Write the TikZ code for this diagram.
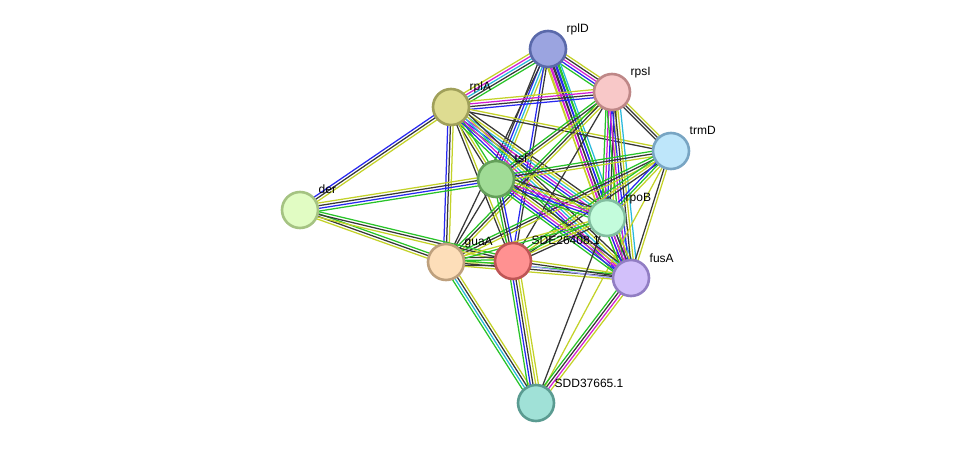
\documentclass[tikz,border=0pt]{standalone}
\usepackage{fontspec}
\setmainfont{Liberation Sans}
\usetikzlibrary{calc}
\pgfdeclarelayer{bg}
\pgfsetlayers{bg,main}
\definecolor{tmC}{RGB}{195,210,40}
\definecolor{coC}{RGB}{55,55,55}
\definecolor{exC}{RGB}{210,30,210}
\definecolor{dbC}{RGB}{40,185,220}
\definecolor{nbC}{RGB}{40,195,40}
\definecolor{ocC}{RGB}{40,40,240}
\definecolor{hoC}{RGB}{160,160,255}
\definecolor{fD}{RGB}{155,164,224}\definecolor{bD}{RGB}{90,105,170}
\definecolor{fI}{RGB}{248,200,200}\definecolor{bI}{RGB}{190,135,135}
\definecolor{fA}{RGB}{222,220,145}\definecolor{bA}{RGB}{160,160,90}
\definecolor{fT}{RGB}{190,230,250}\definecolor{bT}{RGB}{120,165,195}
\definecolor{fF}{RGB}{160,220,150}\definecolor{bF}{RGB}{100,160,90}
\definecolor{fR}{RGB}{225,252,195}\definecolor{bR}{RGB}{165,195,130}
\definecolor{fB}{RGB}{195,252,220}\definecolor{bB}{RGB}{130,190,160}
\definecolor{fS}{RGB}{255,145,145}\definecolor{bS}{RGB}{190,85,85}
\definecolor{fG}{RGB}{253,222,185}\definecolor{bG}{RGB}{190,160,125}
\definecolor{fU}{RGB}{210,192,250}\definecolor{bU}{RGB}{145,125,195}
\definecolor{fQ}{RGB}{160,225,215}\definecolor{bQ}{RGB}{90,155,145}
\tikzset{
  prot/.style={circle, minimum size=36pt, inner sep=0pt, line width=2.6pt},
  lbl/.style={anchor=base west, font=\fontsize{12}{12}\selectfont, inner sep=0.5pt, text=black},
  edgeline/.style={line width=1.25pt}
}
\newcommand\bund[3]{%
  \foreach \c [count=\k] in {#3} {\xdef\bundN{\k}}%
  \foreach \c [count=\k] in {#3} {%
    \pgfmathsetmacro\off{(\k-(\bundN+1)/2)*2.7}%
    \draw[edgeline, draw=\c] ($(#1)!\off pt!90:(#2)$) -- ($(#2)!\off pt!-90:(#1)$);
  }}
\begin{document}
\begin{tikzpicture}[x=1pt,y=-1pt]
\path[use as bounding box] (0,0) rectangle (975,449);
\node[prot, fill=fD, draw=bD] (D) at (548,49) {};
\node[prot, fill=fI, draw=bI] (I) at (612,92) {};
\node[prot, fill=fA, draw=bA] (A) at (451,107) {};
\node[prot, fill=fT, draw=bT] (T) at (671,151) {};
\node[prot, fill=fF, draw=bF] (F) at (496,179) {};
\node[prot, fill=fR, draw=bR] (R) at (300,210) {};
\node[prot, fill=fB, draw=bB] (B) at (607,218) {};
\node[prot, fill=fS, draw=bS] (S) at (513,261) {};
\node[prot, fill=fG, draw=bG] (G) at (446,262) {};
\node[prot, fill=fU, draw=bU] (U) at (631,278) {};
\node[prot, fill=fQ, draw=bQ] (Q) at (536,403) {};
\node[lbl] (lD) at (566,33) {rplD};
\node[lbl] (lI) at (630,76) {rpsI};
\node[lbl] (lA) at (469,91) {rplA};
\node[lbl] (lT) at (689,135) {trmD};
\node[lbl] (lF) at (514,163) {tsf};
\node[lbl] (lR) at (318,194) {der};
\node[lbl] (lB) at (625,202) {rpoB};
\node[lbl] (lS) at (531,245) {SDE26408.1};
\node[lbl] (lG) at (464,246) {guaA};
\node[lbl] (lU) at (649,262) {fusA};
\node[lbl] (lQ) at (554,387) {SDD37665.1};
\begin{pgfonlayer}{bg}
\bund{D}{I}{nbC,ocC,exC,coC,tmC}
\bund{D}{A}{tmC,exC,dbC,coC,nbC}
\bund{D}{F}{coC,ocC,dbC,tmC}
\bund{D}{S}{ocC,coC}
\bund{D}{G}{coC}
\bund{D}{B}{tmC,exC,coC,ocC,nbC}
\bund{D}{U}{tmC,exC,coC,ocC,nbC,dbC}
\bund{A}{I}{ocC,coC,exC,tmC}
\bund{A}{T}{coC,tmC}
\bund{A}{R}{ocC,coC,tmC}
\bund{A}{G}{ocC,coC,tmC}
\bund{A}{F}{coC,tmC,nbC}
\bund{A}{B}{nbC,ocC,exC,dbC,tmC,coC}
\bund{A}{U}{nbC,ocC,exC,dbC,tmC,coC}
\bund{A}{S}{coC,tmC}
\bund{I}{T}{coC,coC,tmC}
\bund{I}{B}{nbC,exC,ocC,coC,tmC}
\bund{I}{U}{nbC,exC,ocC,coC,tmC,dbC}
\bund{I}{F}{nbC,coC,tmC}
\bund{I}{G}{nbC,coC,tmC}
\bund{I}{S}{coC}
\bund{T}{F}{nbC,coC,tmC}
\bund{T}{G}{nbC,coC,tmC}
\bund{T}{S}{nbC,tmC,coC}
\bund{T}{B}{ocC,nbC,tmC}
\bund{T}{U}{coC,tmC}
\bund{T}{Q}{tmC}
\bund{F}{R}{tmC,coC,ocC,nbC}
\bund{F}{B}{nbC,ocC,exC,tmC,coC}
\bund{F}{U}{nbC,ocC,exC,tmC,coC}
\bund{F}{S}{nbC,coC,ocC}
\bund{F}{G}{coC}
\bund{R}{G}{tmC,coC,nbC}
\bund{R}{S}{tmC,coC,nbC}
\bund{G}{S}{coC,tmC,nbC,coC}
\bund{G}{U}{tmC,coC,nbC}
\bund{G}{B}{nbC,tmC}
\bund{G}{Q}{nbC,dbC,coC,tmC}
\bund{S}{U}{hoC,coC,tmC}
\bund{S}{B}{coC,tmC,nbC}
\bund{S}{Q}{nbC,ocC,coC,tmC,tmC}
\bund{B}{U}{nbC,ocC,exC,coC,tmC}
\bund{B}{Q}{coC}
\bund{U}{Q}{nbC,coC,exC,tmC}
\end{pgfonlayer}
\end{tikzpicture}
\end{document}
